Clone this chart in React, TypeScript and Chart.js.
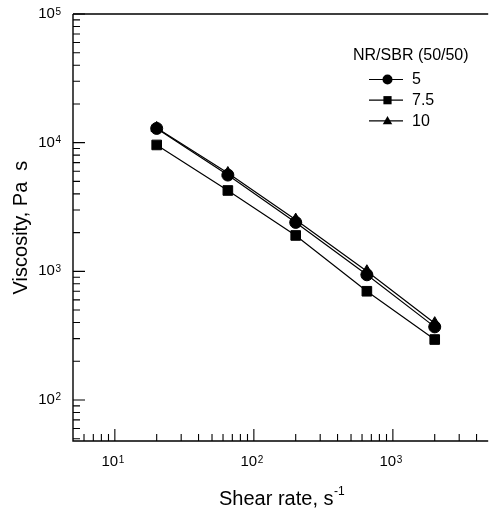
import React, { useEffect, useRef } from "react";
import { Chart, registerables } from "chart.js";

Chart.register(...registerables);

// ---- data ----
const shearRate = [20, 65, 200, 650, 2000];
const visc5 = [12900, 5600, 2400, 940, 370];
const visc75 = [9600, 4250, 1900, 700, 295];
const visc10 = [13000, 5800, 2520, 1000, 395];
const seriesLabels = ["5", "7.5", "10"];
const seriesMarkers = ["circle", "rect", "triangle"];
const legendTitle = "NR/SBR (50/50)";

const xMin = 5;
const xMax = 4850;
const yMin = 48;
const yMax = 100000;

const xMajorTicks = [10, 100, 1000];
const xTickExponents = ["1", "2", "3"];
const yMajorTicks = [100, 1000, 10000, 100000];
const yTickExponents = ["2", "3", "4", "5"];
const tickBase = "10";

const xTitle = "Shear rate, s";
const xTitleExp = "-1";
const yTitle = "Viscosity, Pa  s";

const FONT = '"Liberation Sans", Arial, Helvetica, sans-serif';

function drawMarker(ctx: CanvasRenderingContext2D, style: string, x: number, y: number, r: number) {
  ctx.beginPath();
  if (style === "circle") {
    ctx.arc(x, y, r, 0, Math.PI * 2);
  } else if (style === "rect") {
    const s = r * 0.82;
    ctx.rect(x - s, y - s, 2 * s, 2 * s);
  } else {
    ctx.moveTo(x, y - r);
    ctx.lineTo(x + r * 0.95, y + r * 0.65);
    ctx.lineTo(x - r * 0.95, y + r * 0.65);
    ctx.closePath();
  }
  ctx.fill();
}

function drawPow(
  ctx: CanvasRenderingContext2D,
  base: string,
  exp: string,
  x: number,
  y: number,
  align: "right" | "center"
) {
  ctx.font = `15px ${FONT}`;
  const wb = ctx.measureText(base).width;
  ctx.font = `10px ${FONT}`;
  const we = ctx.measureText(exp).width;
  const total = wb + 0.5 + we;
  const left = align === "right" ? x - total : x - total / 2;
  ctx.textAlign = "left";
  ctx.font = `15px ${FONT}`;
  ctx.textBaseline = "middle";
  ctx.fillText(base, left, y);
  ctx.font = `10px ${FONT}`;
  ctx.textBaseline = "alphabetic";
  ctx.fillText(exp, left + wb + 0.5, y + 0.5);
}

const axesPlugin = {
  id: "customAxes",
  afterDraw(chart: any) {
    const { ctx, chartArea: ca, scales } = chart;
    const xs = scales.x;
    const ys = scales.y;
    ctx.save();
    ctx.strokeStyle = "#000";
    ctx.fillStyle = "#000";
    ctx.lineWidth = 1.4;
    ctx.beginPath();
    ctx.moveTo(ca.left, ca.top);
    ctx.lineTo(ca.right, ca.top);
    ctx.moveTo(ca.left, ca.top);
    ctx.lineTo(ca.left, ca.bottom);
    ctx.lineTo(ca.right, ca.bottom);
    ctx.stroke();

    // ticks (inward)
    ctx.lineWidth = 1.1;
    ctx.beginPath();
    for (let d = 1; d <= 100000; d *= 10) {
      for (let m = 1; m <= 9; m++) {
        const v = m * d;
        const major = m === 1;
        if (v > yMin && v <= yMax) {
          const py = ys.getPixelForValue(v);
          ctx.moveTo(ca.left, py);
          ctx.lineTo(ca.left + (major ? 12 : 7), py);
        }
        if (v > xMin && v < xMax) {
          const px = xs.getPixelForValue(v);
          ctx.moveTo(px, ca.bottom);
          ctx.lineTo(px, ca.bottom - (major ? 12 : 7));
        }
      }
    }
    ctx.stroke();

    // tick labels
    yMajorTicks.forEach((v, i) => {
      drawPow(ctx, tickBase, yTickExponents[i], ca.left - 12, ys.getPixelForValue(v), "right");
    });
    xMajorTicks.forEach((v, i) => {
      drawPow(ctx, tickBase, xTickExponents[i], xs.getPixelForValue(v) - 2, ca.bottom + 21, "center");
    });

    // x title
    ctx.font = `20px ${FONT}`;
    const wt = ctx.measureText(xTitle).width;
    const tx = 219;
    ctx.textAlign = "left";
    ctx.textBaseline = "alphabetic";
    ctx.fillText(xTitle, tx, ca.bottom + 64);
    ctx.font = `12px ${FONT}`;
    ctx.fillText(xTitleExp, tx + wt + 0.5, ca.bottom + 54);

    // y title
    ctx.save();
    ctx.translate(27, (ca.top + ca.bottom) / 2);
    ctx.rotate(-Math.PI / 2);
    ctx.font = `20px ${FONT}`;
    ctx.textAlign = "center";
    ctx.textBaseline = "alphabetic";
    ctx.fillText(yTitle, 0, 0);
    ctx.restore();

    // legend
    ctx.font = `16px ${FONT}`;
    ctx.textAlign = "left";
    ctx.textBaseline = "alphabetic";
    ctx.fillText(legendTitle, 353, 60);
    ctx.lineWidth = 1.2;
    seriesLabels.forEach((lab, i) => {
      const cy = 79.5 + i * 20.7;
      ctx.beginPath();
      ctx.moveTo(369, cy);
      ctx.lineTo(403, cy);
      ctx.stroke();
      drawMarker(ctx, seriesMarkers[i], 387.5, cy, 5);
      ctx.font = `16px ${FONT}`;
      ctx.textBaseline = "middle";
      ctx.fillText(lab, 412, cy + 0.5);
    });
    ctx.restore();
  },
};

export default function App() {
  const ref = useRef<HTMLCanvasElement | null>(null);
  useEffect(() => {
    if (!ref.current) return;
    const mk = (vals: number[]) => shearRate.map((x, i) => ({ x, y: vals[i] }));
    const common = {
      borderColor: "#000",
      backgroundColor: "#000",
      pointBackgroundColor: "#000",
      pointBorderColor: "#000",
      pointBorderWidth: 1,
      borderWidth: 1.2,
      fill: false,
      tension: 0,
    };
    const chart = new Chart(ref.current, {
      type: "line",
      data: {
        datasets: [
          { ...common, label: seriesLabels[0], data: mk(visc5), pointStyle: "circle", pointRadius: 6 },
          { ...common, label: seriesLabels[1], data: mk(visc75), pointStyle: "rect", pointRadius: 6.8 },
          { ...common, label: seriesLabels[2], data: mk(visc10), pointStyle: "triangle", pointRadius: 6.6 },
        ] as any,
      },
      options: {
        animation: false,
        responsive: false,
        maintainAspectRatio: false,
        layout: { padding: { left: 73, top: 14, right: 0, bottom: 72 } },
        plugins: { legend: { display: false }, tooltip: { enabled: false } },
        scales: {
          x: { type: "logarithmic", min: xMin, max: xMax, display: false },
          y: { type: "logarithmic", min: yMin, max: yMax, display: false },
        },
      },
      plugins: [axesPlugin],
    });
    return () => chart.destroy();
  }, []);
  return (
    <div style={{ position: "absolute", left: 0, top: 0, width: 496, height: 513, background: "#fff" }}>
      <canvas ref={ref} width={496} height={513} style={{ width: 496, height: 513, display: "block" }} />
    </div>
  );
}
